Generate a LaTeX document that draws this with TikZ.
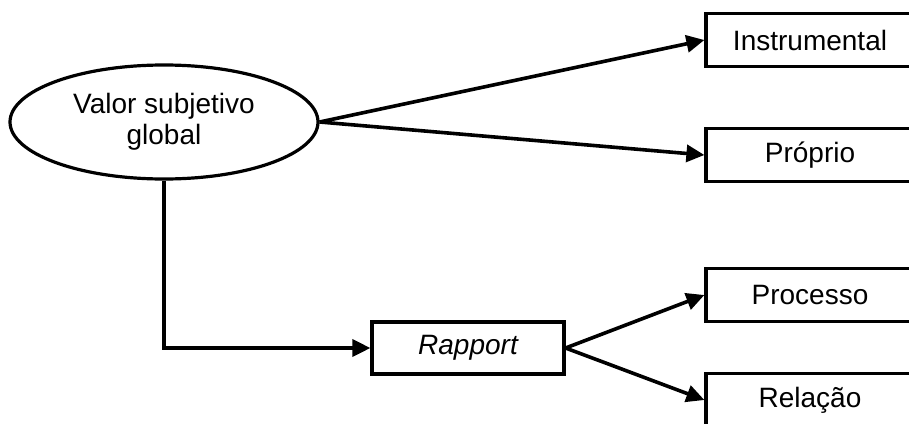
\documentclass[tikz,border=0pt]{standalone}
\usepackage{fontspec}
\setmainfont{Liberation Sans}
\usetikzlibrary{arrows.meta,shapes.geometric}
\begin{document}
\begin{tikzpicture}[x=1pt,y=-1pt,
  every node/.style={font=\fontsize{28}{31}\selectfont},
  boxnode/.style={draw, line width=3.2pt, minimum width=208pt, minimum height=53pt, inner sep=0pt},
  ellnode/.style={draw, ellipse, line width=3.2pt, minimum width=308pt, minimum height=114pt, inner sep=0pt, align=center},
  conn/.style={line width=3.6pt, -{Triangle[length=18pt,width=17pt]}}]
\useasboundingbox (0,0) rectangle (909,423);
\clip (0,0) rectangle (909,423);
\node[ellnode] (vsg) at (164,122) {Valor subjetivo\\global};
\node[boxnode] (ins) at (810,40) {Instrumental};
\node[boxnode] (pro) at (810,155) {Próprio};
\node[boxnode, minimum width=192pt, minimum height=52pt] (rap) at (468,348) {\itshape Rapport};
\node[boxnode] (prc) at (810,295) {Processo};
\node[boxnode] (rel) at (810,400) {Relação};
\draw[conn] (vsg.east) -- (ins.west);
\draw[conn] (vsg.east) -- (pro.west);
\draw[conn] (vsg.south) |- (rap.west);
\draw[conn] (rap.east) -- (prc.west);
\draw[conn] (rap.east) -- (rel.west);
\end{tikzpicture}
\end{document}
